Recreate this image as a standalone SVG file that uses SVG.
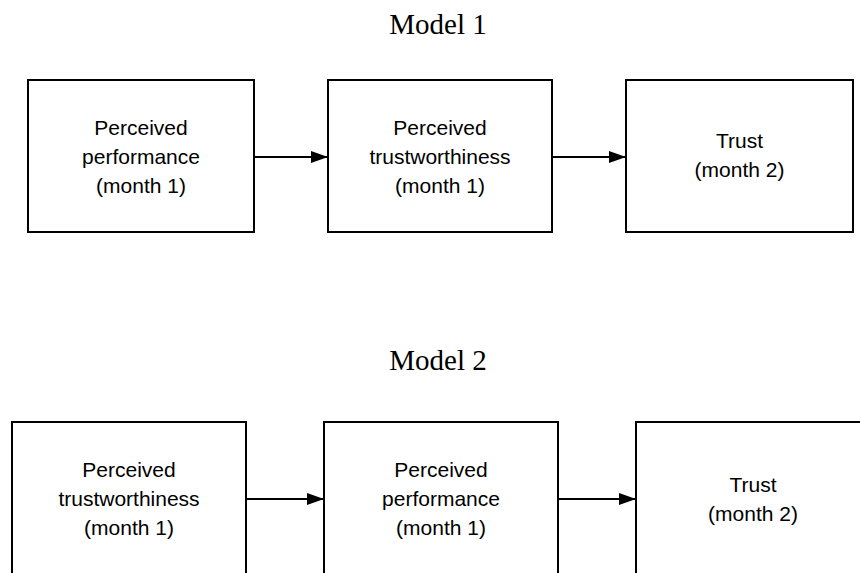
<svg xmlns="http://www.w3.org/2000/svg" width="860" height="573" viewBox="0 0 860 573">
<style>
.box{fill:#fff;stroke:#000;stroke-width:2}
.lbl{font-family:"Liberation Sans",Arial,sans-serif;font-size:21px;fill:#000;text-anchor:middle}
.title{font-family:"Liberation Serif","Times New Roman",serif;font-size:29px;fill:#000;text-anchor:middle}
.conn{stroke:#000;stroke-width:2;fill:none}
</style>
<defs>
<marker id="arr" markerUnits="userSpaceOnUse" markerWidth="18" markerHeight="14" refX="17" refY="6" orient="auto">
<path d="M0,0 L17,6 L0,12 Z" fill="#000"/>
</marker>
</defs>
<rect width="860" height="573" fill="#fff"/>
<text class="title" x="438" y="34">Model 1</text>
<text class="title" x="438" y="370">Model 2</text>
<g id="m1-perf">
<rect class="box" x="28" y="80" width="226" height="152"/>
<text class="lbl" x="141" y="135">Perceived</text>
<text class="lbl" x="141" y="164">performance</text>
<text class="lbl" x="141" y="193">(month 1)</text>
</g>
<g id="m1-trustw">
<rect class="box" x="328" y="80" width="224" height="152"/>
<text class="lbl" x="440" y="135">Perceived</text>
<text class="lbl" x="440" y="164">trustworthiness</text>
<text class="lbl" x="440" y="193">(month 1)</text>
</g>
<g id="m1-trust">
<rect class="box" x="626" y="80" width="227" height="152"/>
<text class="lbl" x="739.5" y="148">Trust</text>
<text class="lbl" x="739.5" y="177">(month 2)</text>
</g>
<g id="m2-trustw">
<rect class="box" x="12" y="422" width="234" height="153"/>
<text class="lbl" x="129" y="477">Perceived</text>
<text class="lbl" x="129" y="506">trustworthiness</text>
<text class="lbl" x="129" y="535">(month 1)</text>
</g>
<g id="m2-perf">
<rect class="box" x="324" y="422" width="234" height="153"/>
<text class="lbl" x="441" y="477">Perceived</text>
<text class="lbl" x="441" y="506">performance</text>
<text class="lbl" x="441" y="535">(month 1)</text>
</g>
<g id="m2-trust">
<rect class="box" x="636" y="422" width="234" height="153"/>
<text class="lbl" x="753" y="492">Trust</text>
<text class="lbl" x="753" y="521">(month 2)</text>
</g>
<g id="connectors">
<line class="conn" x1="254" y1="157" x2="328" y2="157" marker-end="url(#arr)"/>
<line class="conn" x1="552" y1="157" x2="626" y2="157" marker-end="url(#arr)"/>
<line class="conn" x1="246" y1="499" x2="324" y2="499" marker-end="url(#arr)"/>
<line class="conn" x1="558" y1="499" x2="636" y2="499" marker-end="url(#arr)"/>
</g>
</svg>
